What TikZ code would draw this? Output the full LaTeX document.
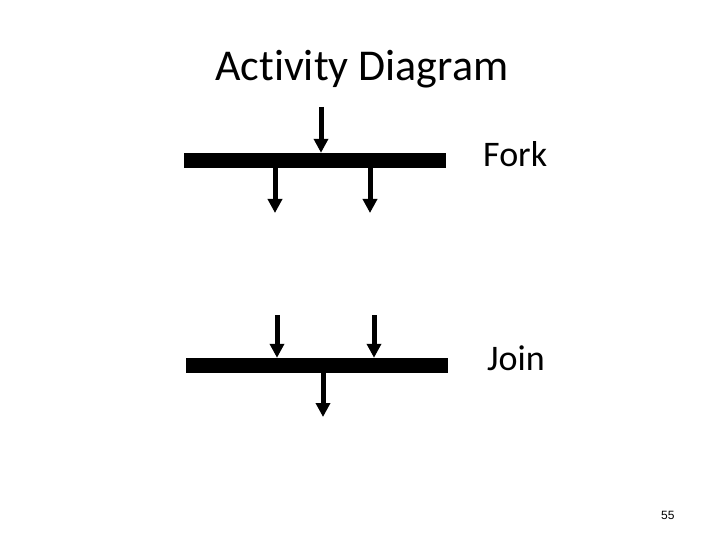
\documentclass[tikz,border=0pt]{standalone}
\usepackage{fontspec}
\setmainfont[Ligatures=NoCommon]{Carlito}
\newfontfamily\pagefont{Liberation Sans}
\usetikzlibrary{arrows.meta}
\tikzstyle{syncbar}=[draw=none,fill=black,rectangle,inner sep=0pt,minimum width=262pt,minimum height=15pt]
\tikzstyle{flow}=[line width=5pt,-{Triangle[width=14pt,length=14pt]}]
\tikzstyle{label}=[inner sep=0pt,anchor=base west]

\begin{document}
\begin{tikzpicture}[x=1pt,y=-1pt]
  \useasboundingbox (0,0) rectangle (720,540);

  \node[label,font=\fontsize{44}{50}\selectfont] (title) at (215,81) {Activity Diagram};

  % fork
  \node[syncbar] (forkbar) at (315,160.5) {};
  \node[label,font=\fontsize{36}{42}\selectfont] (forklbl) at (483,167) {Fork};
  \coordinate (fin) at (321,107);
  \coordinate (fout1) at (275,213);
  \coordinate (fout2) at (370,213);
  \draw[flow] (fin) -- (fin |- forkbar.north);
  \foreach \i in {1,2}{
    \draw[flow] (fout\i |- forkbar.south) -- (fout\i);
  }

  % join
  \node[syncbar] (joinbar) at (317,365.5) {};
  \node[label,font=\fontsize{36}{42}\selectfont] (joinlbl) at (487,370) {Join};
  \coordinate (jin1) at (277,315);
  \coordinate (jin2) at (374,315);
  \coordinate (jout) at (323,417);
  \foreach \i in {1,2}{
    \draw[flow] (jin\i) -- (jin\i |- joinbar.north);
  }
  \draw[flow] (jout |- joinbar.south) -- (jout);

  \node[label,font=\pagefont\fontsize{12}{14}\selectfont] (pagenum) at (661,519) {55};
\end{tikzpicture}
\end{document}
